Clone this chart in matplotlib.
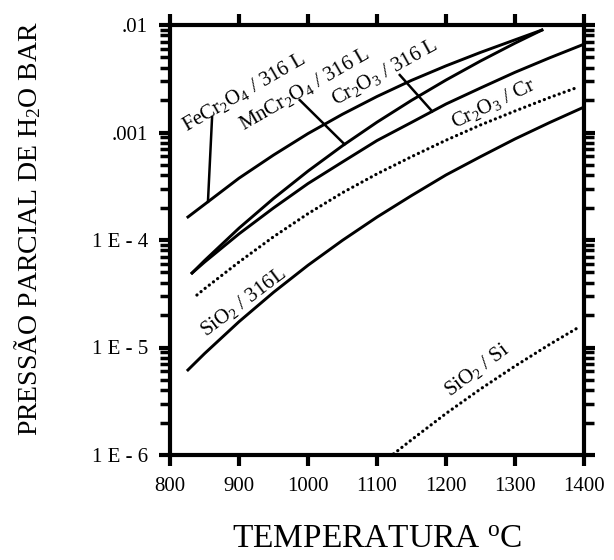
import numpy as np
import matplotlib
matplotlib.use("Agg")
import matplotlib.pyplot as plt
from matplotlib.ticker import FixedLocator, LogLocator, NullFormatter

plt.rcParams['font.family'] = ['Liberation Serif', 'DejaVu Serif']
plt.rcParams['mathtext.fontset'] = 'custom'
plt.rcParams['mathtext.rm'] = 'Liberation Serif'
plt.rcParams['mathtext.it'] = 'Liberation Serif:italic'
plt.rcParams['mathtext.bf'] = 'Liberation Serif:bold'

# ---- data (temperature in °C, log10 of pH2O in bar) ----
fecr_T = [826, 850, 900, 950, 1000, 1050, 1100, 1150, 1200, 1250, 1300, 1339]
fecr_logp = [-3.786, -3.669, -3.425, -3.210, -3.010, -2.830, -2.665, -2.515,
             -2.380, -2.255, -2.138, -2.047]

mncr_T = [832, 850, 900, 950, 1000, 1050, 1100, 1150, 1200, 1250, 1300, 1339]
mncr_logp = [-4.307, -4.192, -3.890, -3.614, -3.359, -3.123, -2.904, -2.701,
             -2.512, -2.335, -2.169, -2.047]

cr2o3_316_T = [832, 850, 900, 950, 1000, 1050, 1100, 1150, 1200, 1250, 1300,
               1350, 1397]
cr2o3_316_logp = [-4.307, -4.206, -3.943, -3.702, -3.475, -3.274, -3.075, -2.906,
                  -2.735, -2.586, -2.440, -2.306, -2.186]

cr2o3_cr_T = [839, 850, 900, 950, 1000, 1050, 1100, 1150, 1200, 1250, 1300,
              1350, 1388]
cr2o3_cr_logp = [-4.512, -4.454, -4.205, -3.970, -3.755, -3.560, -3.385, -3.225,
                 -3.072, -2.930, -2.800, -2.675, -2.586]

sio2_316_T = [826, 850, 900, 950, 1000, 1050, 1100, 1150, 1200, 1250, 1300,
              1350, 1397]
sio2_316_logp = [-5.209, -5.057, -4.760, -4.487, -4.235, -4.003, -3.787, -3.587,
                 -3.395, -3.225, -3.060, -2.908, -2.772]

sio2_si_T = [1124, 1150, 1200, 1250, 1300, 1350, 1393]
sio2_si_logp = [-5.990, -5.859, -5.614, -5.386, -5.173, -4.972, -4.809]

x_ticks = [800, 900, 1000, 1100, 1200, 1300, 1400]
y_ticks = [1e-6, 1e-5, 1e-4, 1e-3, 1e-2]
y_ticklabels = ['1 E - 6', '1 E - 5', '1 E - 4', '.001', '.01']

fig = plt.figure(figsize=(6.14, 5.6), dpi=100)
ax = fig.add_axes([170/614, 1-455/560, (584-170)/614, (455-25)/560])

def P(lp):
    return 10 ** np.asarray(lp, dtype=float)

lw = 2.1
dot = (0, (0.05, 1.6))
ax.plot(fecr_T, P(fecr_logp), color='black', lw=lw)
ax.plot(mncr_T, P(mncr_logp), color='black', lw=lw)
ax.plot(cr2o3_316_T, P(cr2o3_316_logp), color='black', lw=lw)
ax.plot(sio2_316_T, P(sio2_316_logp), color='black', lw=lw)
ax.plot(cr2o3_cr_T, P(cr2o3_cr_logp), color='black', lw=2.3, ls=dot,
        dash_capstyle='round')
ax.plot(sio2_si_T, P(sio2_si_logp), color='black', lw=2.3, ls=dot,
        dash_capstyle='round')

ax.set_xlim(800, 1400)
ax.set_yscale('log')
ax.set_ylim(1e-6, 1e-2)

ax.xaxis.set_major_locator(FixedLocator(x_ticks))
ax.set_xticklabels([str(t) for t in x_ticks])
ax.yaxis.set_major_locator(FixedLocator(y_ticks))
ax.set_yticklabels(y_ticklabels)
ax.yaxis.set_minor_locator(LogLocator(base=10, subs=np.arange(2, 10)))
ax.yaxis.set_minor_formatter(NullFormatter())

ax.tick_params(axis='both', which='major', direction='out', length=8, width=3,
               labelsize=15, top=True, right=True)
ax.tick_params(axis='y', which='minor', direction='out', length=7, width=2.5,
               left=True, right=True)
ax.tick_params(axis='x', pad=8)
ax.tick_params(axis='y', pad=8)
for s in ax.spines.values():
    s.set_linewidth(3)

ax.set_xlabel('TEMPERATURA $^{\\mathrm{o}}$C', fontsize=24, labelpad=20)
fig.text(28/614, 1-228/560, 'PRESSÃO PARCIAL DE H$_2$O BAR', rotation=90,
         fontsize=20, ha='center', va='center')

# curve labels
fs = 15
ax.text(907, 10**-2.623, 'FeCr$_2$O$_4$ / 316 L', rotation=30, fontsize=fs,
        ha='center', va='center', rotation_mode='anchor')
ax.text(995, 10**-2.595, 'MnCr$_2$O$_4$ / 316 L', rotation=30, fontsize=fs,
        ha='center', va='center', rotation_mode='anchor')
ax.text(1111, 10**-2.437, 'Cr$_2$O$_3$ / 316 L', rotation=29, fontsize=fs,
        ha='center', va='center', rotation_mode='anchor')
ax.text(1268, 10**-2.735, 'Cr$_2$O$_3$ / Cr', rotation=26, fontsize=fs,
        ha='center', va='center', rotation_mode='anchor')
ax.text(906, 10**-4.577, 'SiO$_2$ / 316L', rotation=37, fontsize=fs,
        ha='center', va='center', rotation_mode='anchor')
ax.text(1245, 10**-5.209, 'SiO$_2$ / Si', rotation=37, fontsize=fs,
        ha='center', va='center', rotation_mode='anchor')

# leader lines from labels to curves
def leader(t0, lp0, t1, xs, ys):
    y1 = 10 ** np.interp(t1, xs, ys)
    ax.plot([t0, t1], [10 ** lp0, y1], color='black', lw=1.8)

leader(861, -2.856, 855, fecr_T, fecr_logp)
leader(988, -2.698, 1053, mncr_T, mncr_logp)
leader(1133, -2.465, 1180, cr2o3_316_T, cr2o3_316_logp)

fig.savefig('out.png', dpi=100)
